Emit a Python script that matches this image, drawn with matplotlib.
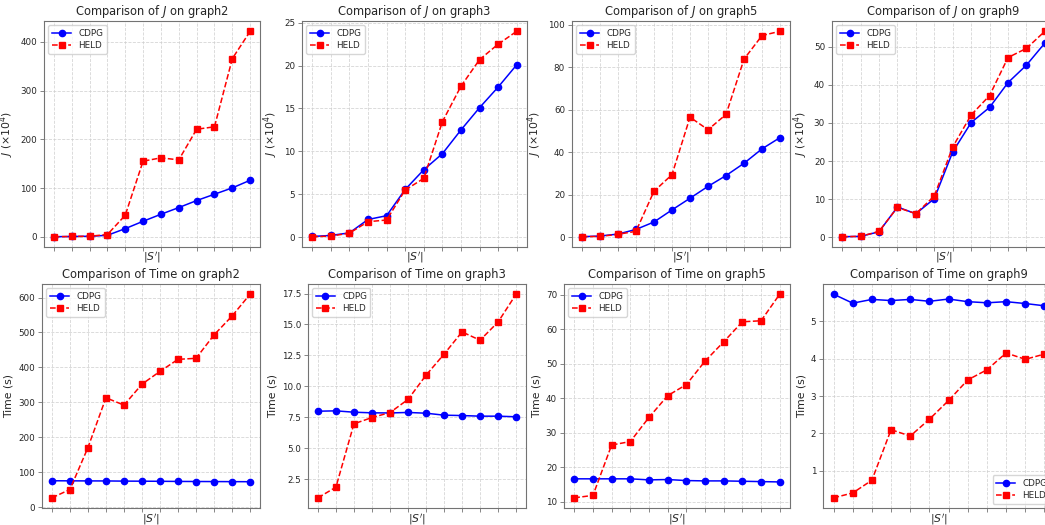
import matplotlib as mpl
mpl.use('Agg')
import matplotlib.pyplot as plt
import numpy as np

# |S'| steps (12 settings, tick labels hidden in the original)
steps = np.arange(1, 13)

# J values (x10^4)
j_cdpg_g2 = [0.5, 1.0, 1.5, 3.4, 17.1, 32.2, 46.6, 60.3, 74.7, 87.7, 100.7, 116.4]
j_held_g2 = [0.5, 1.0, 1.5, 5.0, 44.5, 155.5, 162.3, 158.2, 221.0, 226.0, 366.0, 422.0]
j_cdpg_g3 = [0.08, 0.2, 0.5, 2.06, 2.5, 5.56, 7.86, 9.73, 12.5, 15.1, 17.5, 20.1]
j_held_g3 = [0.05, 0.12, 0.47, 1.8, 2.0, 5.5, 6.85, 13.46, 17.6, 20.7, 22.5, 24.0]
j_cdpg_g5 = [0.16, 0.5, 1.4, 3.6, 7.1, 12.8, 18.3, 23.9, 29.0, 34.8, 41.6, 46.9]
j_held_g5 = [0.2, 0.3, 1.3, 2.7, 21.6, 29.4, 56.5, 50.6, 57.8, 83.9, 95.0, 97.0]
j_cdpg_g9 = [0.1, 0.2, 1.4, 7.9, 6.15, 10.1, 22.4, 30.1, 34.1, 40.6, 45.2, 51.0]
j_held_g9 = [0.1, 0.2, 1.5, 7.8, 6.15, 10.8, 23.7, 32.1, 37.2, 47.2, 49.6, 54.1]

# running times (s)
t_cdpg_g2 = [75.5, 75.3, 75.1, 75.0, 74.5, 74.3, 74.0, 73.6, 73.4, 73.2, 73.0, 72.8]
t_held_g2 = [26.7, 50.5, 170.5, 313.0, 292.0, 352.0, 388.6, 423.0, 426.0, 493.0, 547.0, 609.5]
t_cdpg_g3 = [7.99, 8.02, 7.91, 7.86, 7.85, 7.89, 7.83, 7.67, 7.64, 7.59, 7.59, 7.54]
t_held_g3 = [0.99, 1.85, 6.97, 7.48, 7.88, 8.94, 10.9, 12.6, 14.4, 13.73, 15.2, 17.45]
t_cdpg_g5 = [16.6, 16.6, 16.6, 16.6, 16.3, 16.4, 16.1, 16.0, 16.0, 15.9, 15.8, 15.7]
t_held_g5 = [11.1, 11.8, 26.4, 27.4, 34.4, 40.7, 43.9, 50.7, 56.3, 62.1, 62.4, 70.1]
t_cdpg_g9 = [5.72, 5.48, 5.58, 5.55, 5.58, 5.53, 5.59, 5.52, 5.49, 5.52, 5.47, 5.41]
t_held_g9 = [0.28, 0.41, 0.75, 2.10, 1.93, 2.38, 2.88, 3.43, 3.70, 4.15, 3.98, 4.12]

graphs = ["graph2", "graph3", "graph5", "graph9"]
j_cdpg = [j_cdpg_g2, j_cdpg_g3, j_cdpg_g5, j_cdpg_g9]
j_held = [j_held_g2, j_held_g3, j_held_g5, j_held_g9]
t_cdpg = [t_cdpg_g2, t_cdpg_g3, t_cdpg_g5, t_cdpg_g9]
t_held = [t_held_g2, t_held_g3, t_held_g5, t_held_g9]

W, H = 1045, 525
# axes boxes in pixels: (left, right, top, bottom)
top_boxes = [(44, 260, 21, 247), (302, 527, 21, 247), (572, 790, 21, 247), (832, 1055, 21, 247)]
bot_boxes = [(42, 260, 284, 508), (308, 526, 284, 508), (564, 790, 284, 508), (823, 1055, 284, 508)]

spine_color = "0.45"
text_color = "0.15"
plt.rcParams['axes.edgecolor'] = spine_color
plt.rcParams['xtick.color'] = spine_color
plt.rcParams['ytick.color'] = spine_color
plt.rcParams['xtick.labelcolor'] = text_color
plt.rcParams['ytick.labelcolor'] = text_color
plt.rcParams['text.color'] = text_color
plt.rcParams['axes.labelcolor'] = text_color

fig = plt.figure(figsize=(W / 100, H / 100), dpi=100)


def make_axes(box):
  l, r, t, b = box
  return fig.add_axes([l / W, 1 - b / H, (r - l) / W, (b - t) / H])


def draw(ax, cdpg, held, title, ylabel, legend_loc, xlab_y):
  ax.plot(steps, cdpg, '-o', color='blue', linewidth=1.1, markersize=4.5, label='CDPG')
  ax.plot(steps, held, '--s', color='red', linewidth=1.1, markersize=4.5, label='HELD')
  ax.set_xticks(steps)
  ax.set_xticklabels([])
  ax.grid(True, linestyle='--', color='0.8', linewidth=0.6, alpha=0.8)
  ax.tick_params(axis='both', labelsize=6.3, length=3, width=0.6, pad=2)
  for s in ax.spines.values():
    s.set_linewidth(0.8)
  ax.set_title(title, fontsize=8.3, pad=4)
  ax.set_xlabel(r"$|S'|$", fontsize=7.8)
  ax.xaxis.set_label_coords(0.5, xlab_y)
  ax.set_ylabel(ylabel, fontsize=7.8, labelpad=3)
  ax.legend(loc=legend_loc, fontsize=6.3, framealpha=0.8, edgecolor='0.8',
    handlelength=2.2, borderpad=0.4, labelspacing=0.4)


for i, g in enumerate(graphs):
  ax = make_axes(top_boxes[i])
  draw(ax, j_cdpg[i], j_held[i], "Comparison of $J$ on " + g,
    r"$J$ ($\times 10^4$)", 'upper left', -0.015)

for i, g in enumerate(graphs):
  ax = make_axes(bot_boxes[i])
  draw(ax, t_cdpg[i], t_held[i], "Comparison of Time on " + g,
    "Time (s)", 'lower right' if g == "graph9" else 'upper left', -0.02)

plt.savefig("out.png", dpi=100)
plt.close()
